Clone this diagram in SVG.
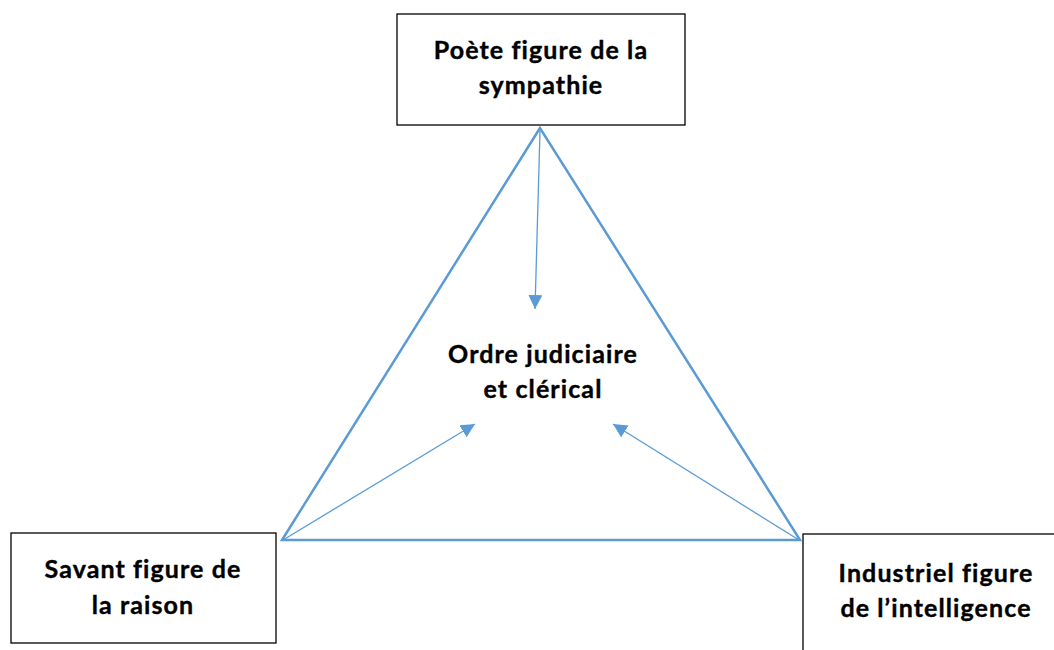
<svg xmlns="http://www.w3.org/2000/svg" width="1054" height="650" viewBox="0 0 1054 650">
<style>
.box{fill:#fff;stroke:#000;stroke-width:1.3}
.t{font-family:Lato,"Liberation Sans",sans-serif;font-weight:700;font-size:25px;letter-spacing:1.1px;fill:#000;text-anchor:middle;stroke:#000;stroke-width:0.4}
.tri{fill:none;stroke:#5B9BD5;stroke-width:2.5;stroke-linejoin:miter}
.arr{stroke:#5B9BD5;stroke-width:1.3;fill:none}
</style>
<defs>
<marker id="ah" viewBox="0 0 10 10" refX="10" refY="5" markerWidth="14" markerHeight="14" markerUnits="userSpaceOnUse" orient="auto">
<path d="M0,0 L10,5 L0,10 Z" fill="#5B9BD5"/>
</marker>
</defs>
<rect width="1054" height="650" fill="#fff"/>
<g id="connectors">
<path class="tri" d="M540,128 L282,540 L800,540 Z"/>
<line class="arr" x1="540" y1="131" x2="535" y2="309" marker-end="url(#ah)"/>
<line class="arr" x1="283" y1="540" x2="475" y2="424" marker-end="url(#ah)"/>
<line class="arr" x1="799" y1="540" x2="613" y2="424" marker-end="url(#ah)"/>
</g>
<g id="poete">
<rect class="box" x="397" y="14" width="288" height="111"/>
<text class="t" x="541" y="59">Poète figure de la</text>
<text class="t" x="541" y="94">sympathie</text>
</g>
<g id="savant">
<rect class="box" x="11" y="533" width="265" height="110"/>
<text class="t" x="143" y="578">Savant figure de</text>
<text class="t" x="143" y="614">la raison</text>
</g>
<g id="industriel">
<rect class="box" x="803" y="534" width="260" height="130"/>
<text class="t" x="936" y="582">Industriel figure</text>
<text class="t" x="936" y="617">de l’intelligence</text>
</g>
<g id="ordre">
<text class="t" x="543" y="363">Ordre judiciaire</text>
<text class="t" x="543" y="398">et clérical</text>
</g>
</svg>
